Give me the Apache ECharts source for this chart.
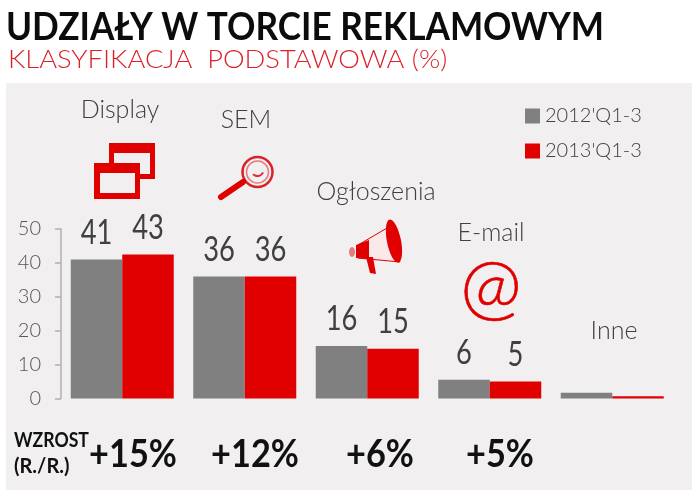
<!DOCTYPE html>
<html>
<head>
<meta charset="utf-8">
<title>Udziały w torcie reklamowym</title>
<style>
  html, body { margin: 0; padding: 0; background: #fff; }
  #chart { width: 695px; height: 498px; }
</style>
</head>
<body>
<div id="chart"></div>
<script src="https://cdn.jsdelivr.net/npm/echarts@6/dist/echarts.min.js"></script>
<script>
const categories = ['Display', 'SEM', 'Ogłoszenia', 'E-mail', 'Inne']
const seriesNames = ["2012'Q1-3", "2013'Q1-3"]
const values2012 = [41, 36, 15.5, 5.5, 1.7]
const values2013 = [42.5, 36, 14.7, 5, 0.7]
const labels2012 = ['41', '36', '16', '6', '']
const labels2013 = ['43', '36', '15', '5', '']
const growth = ['+15%', '+12%', '+6%', '+5%']

const RED = '#e00000'
const GRAY = '#808080'
const PANEL = '#f1eff0'
const TEXT = '#404040'
const FONT = 'Lato, "Open Sans", sans-serif'
const BAR_WIDTH = 51.5

// pozycje nazw kategorii i wzrostów
const namePos = [[120, 110], [246, 120], [376, 192], [491, 233], [614, 331]]
const growthX = [133, 255, 380, 500]

function text(x, y, str, size, extra, scaleX) {
  return {
    type: 'text', x, y, scaleX: scaleX || 1,
    style: {
      text: str, fontSize: size, fontFamily: FONT, fill: TEXT, fontWeight: 300,
      align: 'center', verticalAlign: 'middle', ...extra
    }
  }
}

// etykiety nad słupkami: zwężone cyfry, więc custom zamiast label
function labelSeries(values, labels, side) {
  return {
    type: 'custom',
    silent: true,
    data: values.map((v, i) => [i, v]),
    renderItem(params, api) {
      const pt = api.coord([api.value(0), api.value(1)])
      return text(pt[0] + side * BAR_WIDTH / 2, pt[1] - 27, labels[params.dataIndex], 35, { fontWeight: 'normal' }, 0.78)
    }
  }
}

const chart = echarts.init(document.getElementById('chart'), null, { renderer: 'canvas' })

chart.setOption({
  animation: false,
  backgroundColor: '#fff',
  textStyle: { fontFamily: FONT },
  legend: {
    orient: 'vertical',
    left: 525,
    top: 106,
    padding: 0,
    itemWidth: 15,
    itemHeight: 15,
    itemGap: 15,
    icon: 'rect',
    data: seriesNames,
    textStyle: { color: TEXT, fontSize: 20, fontWeight: 300, fontFamily: FONT }
  },
  grid: { left: 61, right: 21.5, top: 229, bottom: 99.5 },
  xAxis: {
    type: 'category',
    data: categories,
    axisLine: { show: false },
    axisTick: { show: false },
    axisLabel: { show: false }
  },
  yAxis: {
    type: 'value',
    min: 0,
    max: 50,
    interval: 10,
    splitLine: { show: false },
    axisLine: { show: true, lineStyle: { color: '#b0b0b0', width: 1.5 } },
    axisTick: { show: true, length: 6, lineStyle: { color: '#b0b0b0', width: 1.5 } },
    axisLabel: { color: '#555', fontSize: 20, fontWeight: 300, fontFamily: FONT, margin: 20 }
  },
  series: [
    {
      name: seriesNames[0],
      type: 'bar',
      data: values2012,
      barWidth: BAR_WIDTH,
      barGap: 0,
      itemStyle: { color: GRAY }
    },
    {
      name: seriesNames[1],
      type: 'bar',
      data: values2013,
      barWidth: BAR_WIDTH,
      barGap: 0,
      itemStyle: { color: RED }
    },
    labelSeries(values2012, labels2012, -1),
    labelSeries(values2013, labels2013, 1)
  ],
  graphic: [
    // panel w tle
    { type: 'rect', z: -10, shape: { x: 6, y: 83, width: 686, height: 407 }, style: { fill: PANEL } },

    // tytuły
    text(6, 27, 'UDZIAŁY W TORCIE REKLAMOWYM', 39, { fill: '#0c0c0c', fontWeight: 'bold', align: 'left' }, 0.902),
    text(8, 60, 'KLASYFIKACJA  PODSTAWOWA (%)', 26, { fill: '#dc2028', align: 'left' }, 1.05),

    ...categories.map((c, i) => text(namePos[i][0], namePos[i][1], c, 25)),
    ...growth.map((g, i) => text(growthX[i], 454, g, 39, { fill: '#111', fontWeight: 'bold' }, 0.88)),
    text(14, 440, 'WZROST', 21, { fill: '#111', fontWeight: 'bold', align: 'left' }, 0.84),
    text(14, 467, '(R./R.)', 20, { fill: '#111', fontWeight: 'bold', align: 'left' }, 1),

    // ikona Display
    { type: 'rect', shape: { x: 109, y: 143, width: 46, height: 36 }, style: { fill: RED } },
    { type: 'rect', shape: { x: 114, y: 153, width: 36, height: 21 }, style: { fill: PANEL } },
    { type: 'rect', shape: { x: 94, y: 163, width: 46, height: 36 }, style: { fill: RED } },
    { type: 'rect', shape: { x: 100, y: 173, width: 35, height: 20 }, style: { fill: PANEL } },

    // ikona SEM
    { type: 'circle', shape: { cx: 257.5, cy: 172, r: 15 }, style: { fill: 'none', stroke: '#d8222a', lineWidth: 2.5 } },
    { type: 'circle', shape: { cx: 257.5, cy: 172, r: 11 }, style: { fill: 'none', stroke: '#e77a7f', lineWidth: 1.5 } },
    { type: 'arc', shape: { cx: 257.5, cy: 170, r: 6, startAngle: 0.4, endAngle: 2.4 }, style: { fill: 'none', stroke: '#d8323a', lineWidth: 2 } },
    { type: 'line', shape: { x1: 221, y1: 197, x2: 243, y2: 182 }, style: { stroke: RED, lineWidth: 6, lineCap: 'round' } },

    // ikona Ogłoszenia
    { type: 'polygon', shape: { points: [[358, 245], [387, 228], [400, 262], [358, 258]] }, style: { fill: '#fbe9e9', stroke: RED, lineWidth: 1 } },
    { type: 'polygon', shape: { points: [[356, 245], [369, 240], [369, 259], [356, 258]] }, style: { fill: RED } },
    { type: 'polygon', shape: { points: [[366, 257], [373, 257], [376, 274], [370, 273]] }, style: { fill: RED } },
    { type: 'ellipse', shape: { cx: 352, cy: 252, rx: 3, ry: 5 }, style: { fill: '#e77a7f' } },
    { type: 'ellipse', rotation: 0.2, originX: 394, originY: 241, shape: { cx: 394, cy: 241, rx: 7, ry: 22 }, style: { fill: RED } },

    // ikona E-mail
    text(491, 288, '@', 74, { fill: RED, stroke: RED, lineWidth: 0.6 })
  ]
})
</script>
</body>
</html>
